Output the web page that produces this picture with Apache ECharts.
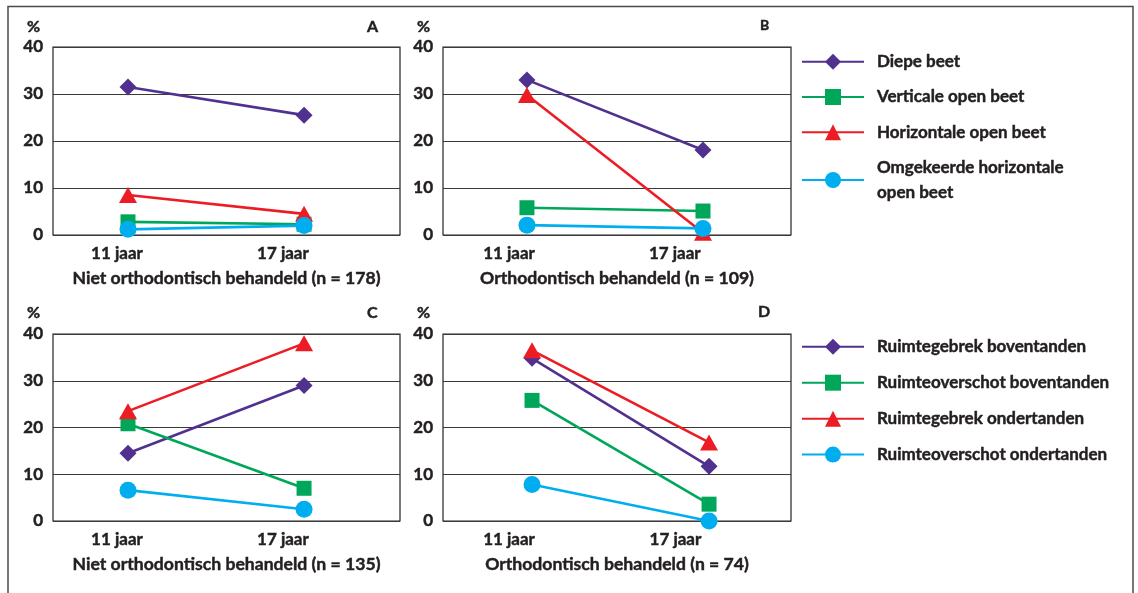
<!DOCTYPE html>
<html><head><meta charset="utf-8">
<script src="https://cdn.jsdelivr.net/npm/echarts@6/dist/echarts.min.js"></script>
<style>html,body{margin:0;padding:0;background:#fff}#c{width:1138px;height:593px}</style>
</head><body><div id="c"></div>
<script>
// ---- data ----
const categories = ['11 jaar', '17 jaar'];
const yTicks = [0, 10, 20, 30, 40];
const unitLabel = '%';
const namesTop = ['Diepe beet', 'Verticale open beet', 'Horizontale open beet', 'Omgekeerde horizontale open beet'];
const namesBottom = ['Ruimtegebrek boventanden', 'Ruimteoverschot boventanden', 'Ruimtegebrek ondertanden', 'Ruimteoverschot ondertanden'];
const panelLetters = ['A', 'B', 'C', 'D'];
const panelTitles = ['Niet orthodontisch behandeld (n = 178)', 'Orthodontisch behandeld (n = 109)',
                     'Niet orthodontisch behandeld (n = 135)', 'Orthodontisch behandeld (n = 74)'];
// Panel A
const aDiepe = [31.5, 25.5];
const aVerticale = [2.8, 2.3];
const aHorizontale = [8.5, 4.5];
const aOmgekeerde = [1.2, 2.0];
// Panel B
const bDiepe = [33.0, 18.1];
const bVerticale = [5.8, 5.1];
const bHorizontale = [29.8, 0.5];
const bOmgekeerde = [2.1, 1.4];
// Panel C
const cGebrekBoven = [14.5, 29.0];
const cOverschotBoven = [20.8, 7.0];
const cGebrekOnder = [23.5, 38.0];
const cOverschotOnder = [6.6, 2.5];
// Panel D
const dGebrekBoven = [34.8, 11.7];
const dOverschotBoven = [25.8, 3.6];
const dGebrekOnder = [36.5, 16.8];
const dOverschotOnder = [7.8, 0.0];

// ---- styling / layout ----
const colors = ['#50318f', '#00a65a', '#ed1c24', '#00aeef'];
const symbols = ['diamond', 'rect', 'triangle', 'circle'];
const symbolSizes = [17, 15, [18, 16], 17];
const FONT = 'Lato';
const TXT = '#231f20';
const txt = (size) => ({ color: TXT, fontFamily: FONT, fontWeight: 'bold', fontSize: size,
  textBorderColor: TXT, textBorderWidth: 0.45 });

const panels = [
  { left: 53, top: 47, width: 347, height: 188, xmin: -0.426, xmax: 1.545, lab: [-0.0625, 0.88], letter: [367, 19], pct: 19,
    names: namesTop, values: [aDiepe, aVerticale, aHorizontale, aOmgekeerde] },
  { left: 443, top: 47, width: 348, height: 188, xmin: -0.477, xmax: 1.5, lab: [-0.102, 0.84], letter: [760, 18], pct: 19,
    names: namesTop, values: [bDiepe, bVerticale, bHorizontale, bOmgekeerde] },
  { left: 53, top: 334, width: 347, height: 187, xmin: -0.426, xmax: 1.545, lab: [-0.0625, 0.88], letter: [367, 305], pct: 305,
    names: namesBottom, values: [cGebrekBoven, cOverschotBoven, cGebrekOnder, cOverschotOnder] },
  { left: 443, top: 334, width: 348, height: 187, xmin: -0.503, xmax: 1.463, lab: [-0.13, 0.81], letter: [758, 304], pct: 305,
    names: namesBottom, values: [dGebrekBoven, dOverschotBoven, dGebrekOnder, dOverschotOnder] }
];

const grid = [], xAxis = [], yAxis = [], series = [], title = [];
panels.forEach((p, i) => {
  grid.push({ left: p.left, top: p.top, width: p.width, height: p.height, show: true,
    borderColor: '#222', borderWidth: 1.2, backgroundColor: 'transparent' });
  xAxis.push({
    type: 'value', gridIndex: i, min: p.xmin, max: p.xmax,
    axisLine: { show: false }, axisTick: { show: false }, splitLine: { show: false },
    axisLabel: Object.assign({ customValues: p.lab, margin: 10,
      formatter: v => categories[v < 0.4 ? 0 : 1] }, txt(17)),
    name: panelTitles[i], nameLocation: 'middle', nameGap: 34,
    nameTextStyle: txt(17.6)
  });
  yAxis.push({
    type: 'value', gridIndex: i, min: yTicks[0], max: yTicks[yTicks.length - 1], interval: 10,
    axisLine: { show: false }, axisTick: { show: false },
    splitLine: { show: true, lineStyle: { color: '#3a3a3a', width: 1 } },
    axisLabel: Object.assign({ margin: 10 }, txt(17))
  });
  title.push({ text: panelLetters[i], left: p.letter[0], top: p.letter[1], padding: 0,
    textStyle: txt(i === 1 ? 14 : 16) });
  title.push({ text: unitLabel, left: i % 2 === 1 ? 417 : 27, top: p.pct, padding: 0, textStyle: txt(16) });
  p.values.forEach((vals, k) => {
    series.push({
      type: 'line', name: p.names[k], xAxisIndex: i, yAxisIndex: i,
      data: categories.map((c, j) => [j, vals[j]]),
      symbol: symbols[k], symbolSize: symbolSizes[k],
      lineStyle: { color: colors[k], width: 2.6 },
      itemStyle: { color: colors[k] },
      z: 2 + k
    });
  });
});

const legendText = Object.assign({ padding: [0, 0, 0, 8] }, txt(17));
const legend = [
  { orient: 'vertical', left: 801, top: 53, padding: 0, itemWidth: 62, itemHeight: 20, itemGap: 17.8, selectedMode: false,
    textStyle: legendText,
    data: namesTop.map((n, k) => k === 3
      ? { name: n, textStyle: { lineHeight: 25, padding: [0, 0, -25, 8] } }
      : { name: n }),
    formatter: n => n === namesTop[3] ? 'Omgekeerde horizontale\nopen beet' : n },
  { orient: 'vertical', left: 801, top: 338, padding: 0, itemWidth: 62, itemHeight: 20, itemGap: 18.5, selectedMode: false,
    textStyle: legendText, data: namesBottom }
];

const chart = echarts.init(document.getElementById('c'), null, { renderer: 'canvas' });
chart.setOption({
  animation: false,
  backgroundColor: '#fff',
  title, grid, xAxis, yAxis, series, legend,
  graphic: [{ type: 'rect', shape: { x: 8, y: 6.5, width: 1125, height: 620 },
    style: { fill: 'none', stroke: '#4a4a4a', lineWidth: 1.5 }, silent: true, z: -1 }]
});
</script></body></html>
